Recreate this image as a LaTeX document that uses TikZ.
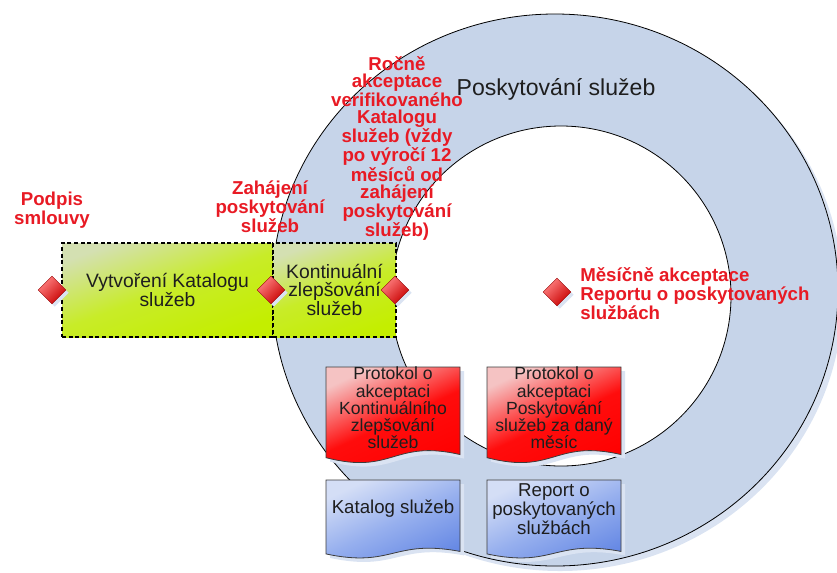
\documentclass[tikz,border=0pt]{standalone}
\usepackage{fontspec}
\setmainfont{Liberation Sans}
\usetikzlibrary{shapes.geometric,shadows}

\begin{document}
\begin{tikzpicture}[x=0.75pt, y=-0.75pt,
    milestone/.style={diamond, draw=diamondline, line width=0.3pt, inner sep=0pt,
        minimum size=21pt, top color=diamondlight, bottom color=diamonddark, shading angle=45,
        drop shadow={shadow xshift=2pt, shadow yshift=-2pt, fill=ringshadow, opacity=1}},
    redlabel/.style={text=labelred, font=\fontsize{14}{12.75}\selectfont\bfseries, inner sep=0pt},
    phasebox/.style={draw=black, line width=1.1pt, dash pattern=on 3pt off 2pt,
        top color=boxlight, bottom color=boxlime, middle color=boxmid, shading angle=20,
        text=textdark, font=\fontsize{14.5}{13.5}\selectfont, align=center, inner sep=0pt},
    docline/.style={draw=docborder, line width=0.6pt,
        drop shadow={shadow xshift=3pt, shadow yshift=-3pt, fill=ringshadow, opacity=1}},
    reddoc/.style={top color=redlight, bottom color=red, middle color=red!95!white, shading angle=25},
    bluedoc/.style={top color=bluelight, bottom color=bluedark, middle color=bluemid, shading angle=25},
    reddoctext/.style={text=textdark, font=\fontsize{13.2}{12.9}\selectfont, align=center, inner sep=0pt},
    bluedoctext/.style={text=textdark, font=\fontsize{14}{13.1}\selectfont, align=center, inner sep=0pt}]

% Define colors
\definecolor{ringblue}{RGB}{198,212,233}
\definecolor{ringshadow}{RGB}{218,227,242}
\definecolor{labelred}{RGB}{232,26,36}
\definecolor{textdark}{RGB}{30,30,30}
\definecolor{diamondline}{RGB}{150,0,0}
\definecolor{diamondlight}{RGB}{255,130,130}
\definecolor{diamonddark}{RGB}{200,0,0}
\definecolor{boxlight}{RGB}{212,224,178}
\definecolor{boxmid}{RGB}{200,236,40}
\definecolor{boxlime}{RGB}{196,238,0}
\definecolor{docborder}{RGB}{60,60,60}
\definecolor{redlight}{RGB}{245,195,195}
\definecolor{bluelight}{RGB}{212,222,246}
\definecolor{bluemid}{RGB}{150,175,238}
\definecolor{bluedark}{RGB}{100,135,228}

% Helper for drawing documents
\newcommand{\docpage}[8]{%
    % #1 = name, #2 = left, #3 = top, #4 = width, #5 = height, #6 = red/blue, #7 = text, #8 = text centre y
    \path[docline, #6doc] (#2,#3) -- (#2+#4,#3) -- (#2+#4,#3+0.85*#5)
        .. controls (#2+0.5*#4,#3+0.70*#5) and (#2+0.5*#4,#3+1.05*#5) .. (#2,#3+0.88*#5) -- cycle;
    \node[#6doctext] (#1) at (#2+0.5*#4,#8) {#7};
}

\useasboundingbox (0,0) rectangle (837,572);

% Ring
\fill[ringshadow] (560,295) ellipse [x radius=283, y radius=276];
\draw[black, line width=0.6pt, fill=ringblue] (555,290) ellipse [x radius=283, y radius=276];
\draw[black, line width=0.6pt, fill=white] (561,296) circle [radius=170];
\node[text=textdark, font=\fontsize{17.3}{20}\selectfont, anchor=base] (poskytovani) at (556,95) {Poskytování služeb};

% Phases
\node[phasebox, minimum width=158.25pt, minimum height=70.5pt] (vytvoreni) at (167.5,290) {Vytvoření Katalogu\\služeb};
\node[phasebox, minimum width=92.25pt, minimum height=70.5pt] (zlepsovani) at (334.5,290) {Kontinuální\\zlepšování\\služeb};

% Milestones
\node[milestone] (dpodpis) at (52,290) {};
\node[milestone] (dzahajeni) at (271,290) {};
\node[milestone] (drocne) at (395,290) {};
\node[milestone] (dmesicne) at (557,292) {};

\node[redlabel, align=center] (podpis) at (52,210) {Podpis\\smlouvy};
\node[redlabel, align=center] (zahajeni) at (270,206.5) {Zahájení\\poskytování\\služeb};
\node[redlabel, align=center] (rocne) at (397,148.5) {Ročně\\akceptace\\verifikovaného\\Katalogu\\služeb (vždy\\po výročí 12\\měsíců od\\zahájení\\poskytování\\služeb)};
\node[redlabel, align=left, anchor=west] (mesicne) at (580,293.5) {Měsíčně akceptace\\Reportu o poskytovaných\\službách};

% Documents
\docpage{protokolzlep}{326}{367}{134}{103}{red}{Protokol o\\akceptaci\\Kontinuálního\\zlepšování\\služeb}{408}
\docpage{protokolposk}{487}{367}{134}{103}{red}{Protokol o\\akceptaci\\Poskytování\\služeb za daný\\měsíc}{408}
\docpage{katalog}{326}{480}{134}{84}{blue}{Katalog služeb}{509}
\docpage{report}{487}{480}{134}{84}{blue}{Report o\\poskytovaných\\službách}{509}

\end{tikzpicture}
\end{document}
